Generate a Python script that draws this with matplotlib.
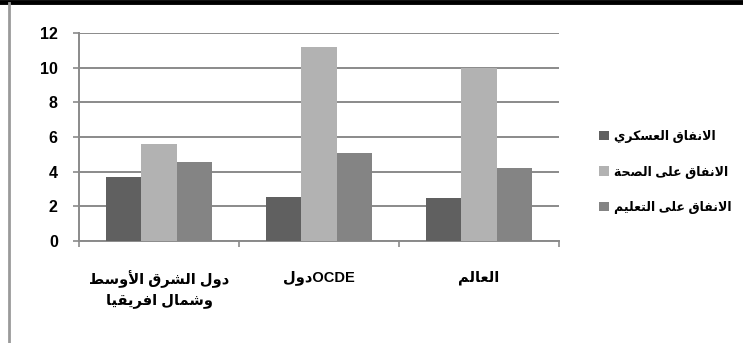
import re
import matplotlib
matplotlib.use("Agg")
import matplotlib.pyplot as plt
import numpy as np
from matplotlib.lines import Line2D

# data
categories = ["دول الشرق الأوسط\nوشمال افريقيا", "دولOCDE", "العالم"]
series_names = ["الانفاق العسكري", "الانفاق على الصحة", "الانفاق على التعليم"]
military = [3.71, 2.55, 2.5]
health = [5.6, 11.21, 10.0]
education = [4.54, 5.05, 4.2]
yticks = [0, 2, 4, 6, 8, 10, 12]

colors = ["#606060", "#b2b2b2", "#848484"]

# minimal arabic shaping (presentation forms) since matplotlib does not shape
FORMS = {
    'ا': (0xFE8D, 0xFE8E, None, None),
    'أ': (0xFE83, 0xFE84, None, None),
    'ة': (0xFE93, 0xFE94, None, None),
    'ت': (0xFE95, 0xFE96, 0xFE97, 0xFE98),
    'ح': (0xFEA1, 0xFEA2, 0xFEA3, 0xFEA4),
    'د': (0xFEA9, 0xFEAA, None, None),
    'ر': (0xFEAD, 0xFEAE, None, None),
    'س': (0xFEB1, 0xFEB2, 0xFEB3, 0xFEB4),
    'ش': (0xFEB5, 0xFEB6, 0xFEB7, 0xFEB8),
    'ص': (0xFEB9, 0xFEBA, 0xFEBB, 0xFEBC),
    'ط': (0xFEC1, 0xFEC2, 0xFEC3, 0xFEC4),
    'ع': (0xFEC9, 0xFECA, 0xFECB, 0xFECC),
    'ف': (0xFED1, 0xFED2, 0xFED3, 0xFED4),
    'ق': (0xFED5, 0xFED6, 0xFED7, 0xFED8),
    'ك': (0xFED9, 0xFEDA, 0xFEDB, 0xFEDC),
    'ل': (0xFEDD, 0xFEDE, 0xFEDF, 0xFEE0),
    'م': (0xFEE1, 0xFEE2, 0xFEE3, 0xFEE4),
    'ن': (0xFEE5, 0xFEE6, 0xFEE7, 0xFEE8),
    'و': (0xFEED, 0xFEEE, None, None),
    'ى': (0xFEEF, 0xFEF0, None, None),
    'ي': (0xFEF1, 0xFEF2, 0xFEF3, 0xFEF4),
}
LAM_ALEF = {'ا': (0xFEFB, 0xFEFC), 'أ': (0xFEF7, 0xFEF8)}


def joins_next(c):
    return c in FORMS and FORMS[c][2] is not None


def shape(word):
    out = []
    i = 0
    n = len(word)
    while i < n:
        c = word[i]
        if c not in FORMS:
            out.append(c)
            i += 1
            continue
        prev = word[i - 1] if i > 0 else ''
        after = joins_next(prev)
        if c == 'ل' and i + 1 < n and word[i + 1] in LAM_ALEF:
            iso, fin = LAM_ALEF[word[i + 1]]
            out.append(chr(fin if after else iso))
            i += 2
            continue
        nxt = word[i + 1] if i + 1 < n else ''
        before = joins_next(c) and nxt in FORMS
        iso, fin, ini, med = FORMS[c]
        if after and before:
            g = med
        elif after:
            g = fin
        elif before:
            g = ini
        else:
            g = iso
        out.append(chr(g))
        i += 1
    return ''.join(out)


def visual(text):
    lines = []
    for line in text.split('\n'):
        parts = re.split(r'([A-Za-z0-9]+)', line)
        lines.append(''.join(p if re.match(r'[A-Za-z0-9]', p) else shape(p)[::-1]
                             for p in parts if p))
    return '\n'.join(lines)


plt.rcParams['font.family'] = ['Liberation Sans', 'DejaVu Sans']
plt.rcParams['font.weight'] = 'bold'

fig = plt.figure(figsize=(7.43, 3.43), dpi=100)
ax = fig.add_axes([79 / 743, 1 - 241 / 343, 480 / 743, 208 / 343])

x = np.arange(len(categories))
w = 0.22
for k, vals in enumerate([military, health, education]):
    ax.bar(x + (k - 1) * w, vals, w, color=colors[k], label=visual(series_names[k]),
           zorder=3)

ax.set_xlim(-0.5, len(categories) - 0.5)
ax.set_ylim(0, 12)
ax.set_yticks(yticks)
ax.yaxis.grid(True, color="#8a8a8a", linewidth=1.4, zorder=0)
ax.tick_params(axis='y', length=4.3, width=1.2, color="#8a8a8a", pad=11, labelsize=11.5)

ax.set_xticks(x)
ax.set_xticklabels([visual(c) for c in categories], fontsize=10.5, linespacing=1.5)
ax.set_xticks(np.arange(-0.5, len(categories)), minor=True)
ax.tick_params(axis='x', which='major', length=0, pad=21)
ax.tick_params(axis='x', which='minor', length=4.5, width=1.2, color="#8a8a8a")
for lbl in ax.get_xticklabels():
    lbl.set_verticalalignment('top')

for s in ['top', 'right']:
    ax.spines[s].set_visible(False)
for s in ['left', 'bottom']:
    ax.spines[s].set_color("#8a8a8a")
    ax.spines[s].set_linewidth(1.4)

fig.legend(loc='center left', bbox_to_anchor=(588 / 743, 1 - 172 / 343), frameon=False,
           fontsize=9, handlelength=0.8, handleheight=0.8, handletextpad=0.35,
           labelspacing=1.8)

# chart frame (top black line and left gray line)
fig.add_artist(Line2D([0, 1], [1 - 1.5 / 343, 1 - 1.5 / 343], color='black', linewidth=3.5,
                      transform=fig.transFigure))
fig.add_artist(Line2D([8.5 / 743, 8.5 / 743], [0, 1 - 3 / 343], color='#9a9a9a',
                      linewidth=2, transform=fig.transFigure))

fig.savefig("out.png", dpi=100)
